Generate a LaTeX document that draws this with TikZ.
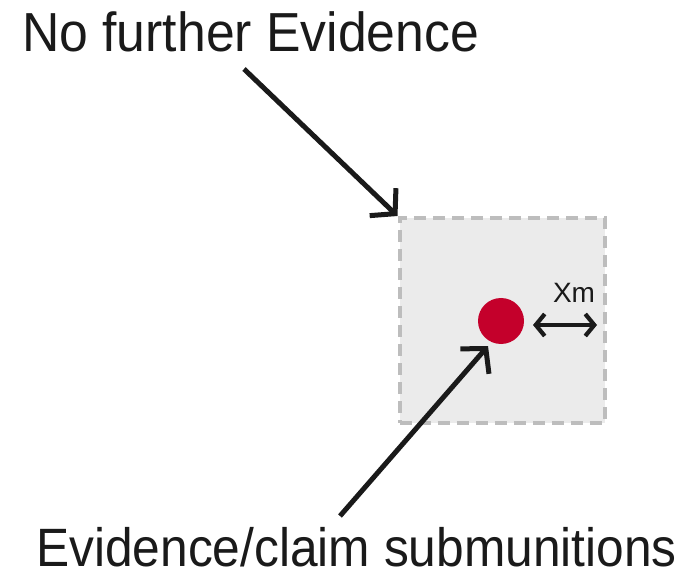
\documentclass[tikz,border=0pt]{standalone}
\usepackage{fontspec}
\setmainfont{Liberation Sans}[FakeStretch=0.94]
\newfontfamily\narrowsans{Liberation Sans}[FakeStretch=0.92]
\newfontfamily\plainsans{Liberation Sans}
\usetikzlibrary{arrows.meta}
\definecolor{boxfill}{HTML}{EBEBEB}
\definecolor{boxline}{HTML}{BDBDBD}
\definecolor{dotred}{HTML}{C4002B}
\definecolor{ink}{HTML}{1A1A1A}
\tikzset{
  x=1pt, y=-1pt,
  bigtext/.style={font=\fontsize{55}{58}\selectfont, text=ink, inner sep=0pt, anchor=base west},
  pointer/.style={draw=ink, line width=5pt, -{Straight Barb[length=17pt, width=38pt, line width=5pt]}},
}
\begin{document}
\begin{tikzpicture}
\useasboundingbox (0,0) rectangle (696,577);
\node[draw=boxline, fill=boxfill, line width=4pt, dash pattern=on 12pt off 7pt,
      minimum width=205pt, minimum height=205pt, inner sep=0pt] (box) at (502,320.5) {};
\node[circle, fill=dotred, minimum size=46pt, inner sep=0pt] (dot) at (501,321) {};
\coordinate (xa) at (533,325);
\coordinate (xb) at (597,325);
\draw[draw=ink, line width=4.2pt, {Straight Barb[length=9pt, width=22pt, line width=4.2pt]}-{Straight Barb[length=9pt, width=22pt, line width=4.2pt]}] (xa) -- (xb);
\node[font=\plainsans\fontsize{28}{30}\selectfont, text=ink, inner sep=0pt, anchor=base] (xm) at (574,302) {Xm};
\node[bigtext] (top) at (22,52) {No further Evidence};
\node[bigtext, font=\narrowsans\fontsize{54}{58}\selectfont, text depth=0pt] (bot) at (36,566) {Evidence/claim submunitions};
\coordinate (t0) at (244,69);
\draw[pointer] (t0) -- (box.north west);
\coordinate (b0) at (340,516);
\coordinate (btip) at (488,346);
\draw[pointer] (b0) -- (btip);
\end{tikzpicture}
\end{document}
